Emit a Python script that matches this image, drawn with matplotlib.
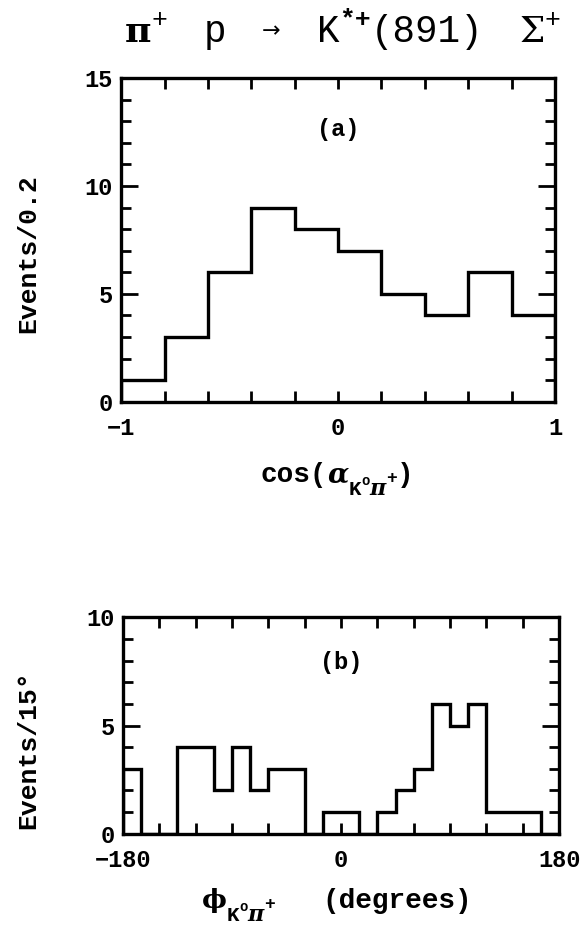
import numpy as np
import matplotlib
matplotlib.use("Agg")
import matplotlib.pyplot as plt
from matplotlib.ticker import MultipleLocator, FixedLocator
from matplotlib.transforms import IdentityTransform

# -----------------------------------
# Data
# -----------------------------------

# (a) cos(alpha), 10 bins of 0.2 from -1 to 1
cos_lo, cos_hi = -1.0, 1.0
cos_counts = [1, 3, 6, 9, 8, 7, 5, 4, 6, 4]

# (b) phi, 24 bins of 15 degrees from -180 to 180
phi_lo, phi_hi = -180.0, 180.0
phi_counts = [3, 0, 0, 4, 4, 2, 4, 2, 3, 3, 0, 1,
              1, 0, 1, 2, 3, 6, 5, 6, 1, 1, 1, 0]

cos_ticklabels = {-1: "\u22121", 0: "0", 1: "1"}
phi_ticklabels = {-180: "\u2212180", 0: "0", 180: "180"}

# -----------------------------------
# Style
# -----------------------------------

MONO = ["Liberation Mono", "DejaVu Sans"]
SERIF = ["DejaVu Serif"]

plt.rcParams["font.family"] = MONO
plt.rcParams["font.weight"] = "bold"

LW = 2.4
W, H = 588, 941

fig = plt.figure(figsize=(W / 100, H / 100), dpi=100)
renderer = fig.canvas.get_renderer()

ax1 = fig.add_axes([0.206, 0.573, 0.738, 0.344])
ax2 = fig.add_axes([0.209, 0.114, 0.742, 0.230])


def style_axes(ax, xmajor, ymajor, yminor):
    for sp in ax.spines.values():
        sp.set_linewidth(LW)
    ax.xaxis.set_major_locator(FixedLocator(xmajor))
    ax.yaxis.set_major_locator(MultipleLocator(ymajor))
    ax.yaxis.set_minor_locator(MultipleLocator(yminor))
    ax.tick_params(which="both", direction="in", top=True, right=True,
                   width=2, labelsize=17)
    ax.tick_params(axis="y", which="major", length=12, pad=6)
    ax.tick_params(axis="y", which="minor", length=7)
    ax.tick_params(axis="x", which="major", length=8, pad=11)


def place_pieces(xc, ybase, pieces):
    # pieces: (text, size, dy, family, weight, style, gap) laid out left to right,
    # centred on xc (pixels); ybase is the baseline in pixels from the bottom
    texts, widths = [], []
    for s, size, dy, fam, wt, st, gap in pieces:
        t = fig.text(0, 0, s, fontsize=size, family=fam, weight=wt, style=st,
                     va="baseline", ha="left", transform=IdentityTransform())
        texts.append(t)
        widths.append(t.get_window_extent(renderer).width)
    total = sum(widths) + sum(p[6] for p in pieces)
    x = xc - total / 2
    for t, w, p in zip(texts, widths, pieces):
        x += p[6]
        t.set_x(x)
        t.set_y(ybase + p[2])
        x += w


# -----------------------------------
# (a)
# -----------------------------------

cos_edges = np.linspace(cos_lo, cos_hi, len(cos_counts) + 1)
ax1.stairs(cos_counts, cos_edges, color="black", linewidth=LW)
ax1.set_xlim(cos_lo, cos_hi)
ax1.set_ylim(0, 15)
cos_ticks = np.round(cos_edges, 1)
style_axes(ax1, cos_ticks, 5, 1)
ax1.set_xticklabels([cos_ticklabels.get(int(v), "") if v == int(v) else ""
                     for v in cos_ticks])
ax1.text(0, 12.6, "(a)", ha="center", va="center", fontsize=17, fontweight="bold")

# -----------------------------------
# (b)
# -----------------------------------

phi_edges = np.linspace(phi_lo, phi_hi, len(phi_counts) + 1)
phi_ticks = phi_edges[::2]
ax2.stairs(phi_counts, phi_edges, color="black", linewidth=LW)
ax2.set_xlim(phi_lo, phi_hi)
ax2.set_ylim(0, 10)
style_axes(ax2, phi_ticks, 5, 1)
ax2.set_xticklabels([phi_ticklabels.get(int(v), "") for v in phi_ticks])
ax2.text(0, 7.9, "(b)", ha="center", va="center", fontsize=17, fontweight="bold")

# -----------------------------------
# Labels and title
# -----------------------------------

fig.text(0.048, 0.730, "Events/0.2", rotation=90, ha="center", va="center",
         fontsize=19, fontweight="bold")
fig.text(0.048, 0.203, "Events/15\u00b0", rotation=90, ha="center", va="center",
         fontsize=19, fontweight="bold")

sub = [("K", 15, -13, MONO, "bold", "normal", 0),
       ("o", 10, -3, MONO, "bold", "normal", 0),
       ("\u03c0", 16, -13, SERIF, "bold", "italic", 0),
       ("+", 13, -1, MONO, "bold", "normal", 0)]

place_pieces(337, H - 482,
             [("cos(", 20, 0, MONO, "bold", "normal", 0),
              ("\u03b1", 20, 0, SERIF, "bold", "italic", 0)] + sub +
             [(")", 20, 0, MONO, "bold", "normal", 0)])

place_pieces(337, H - 908,
             [("\u03d5", 19, 0, SERIF, "bold", "normal", 0)] + sub +
             [("(degrees)", 20, 0, MONO, "bold", "normal", 48)])

place_pieces(343, H - 42,
             [("\u03c0", 26, 0, SERIF, "bold", "normal", 0),
              ("+", 19, 15, MONO, "normal", "normal", 0),
              ("p", 27, 0, MONO, "normal", "normal", 36),
              ("\u2192", 16, 5, ["DejaVu Sans"], "normal", "normal", 36),
              ("K", 27, 0, MONO, "normal", "normal", 36),
              ("*+", 19, 15, MONO, "bold", "normal", 0),
              ("(891)", 27, 0, MONO, "normal", "normal", 0),
              ("\u03a3", 26, 0, SERIF, "normal", "normal", 36),
              ("+", 19, 15, MONO, "normal", "normal", 0)])

fig.savefig("out.png", dpi=100, facecolor="white")
